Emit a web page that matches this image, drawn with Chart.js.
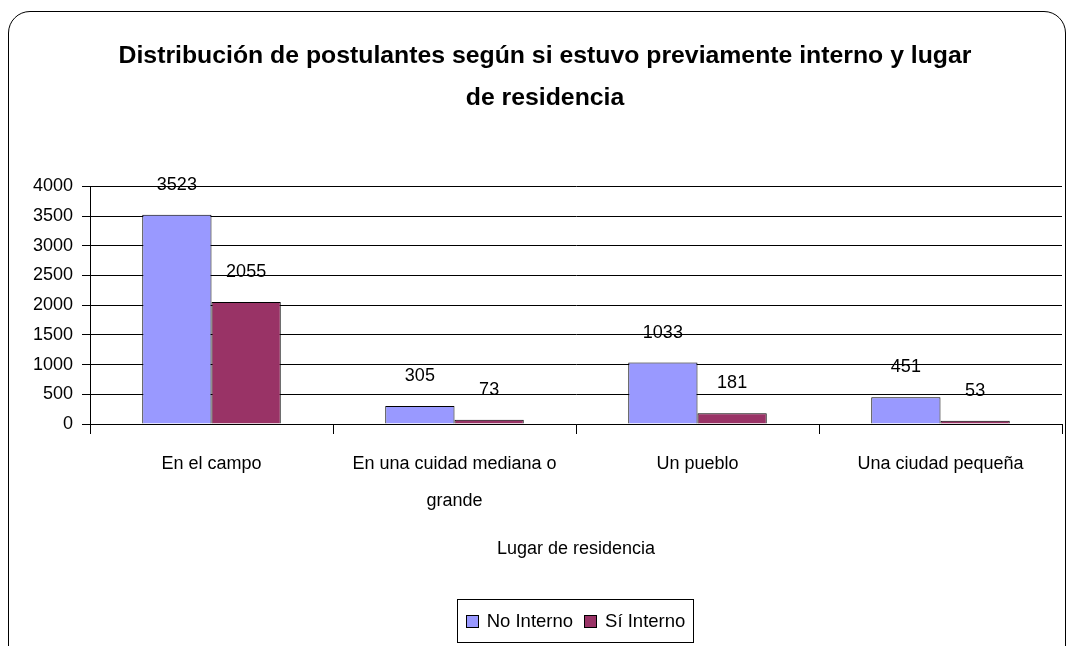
<!DOCTYPE html>
<html>
<head>
<meta charset="utf-8">
<script src="https://cdn.jsdelivr.net/npm/chart.js@4.4.1/dist/chart.umd.min.js"></script>
<style>
  html, body { margin: 0; padding: 0; background: #fff; overflow: hidden; }
  #wrap { position: relative; width: 1069px; height: 646px; }
  #frame {
    position: absolute; left: 8px; top: 11px; width: 1058px; height: 700px;
    border: 1.5px solid #000; border-radius: 22px; box-sizing: border-box;
  }
  #chart { position: absolute; left: 0; top: 0; }
  #legend {
    position: absolute; left: 457px; top: 599px; width: 237px; height: 44px;
    border: 1px solid #000; box-sizing: border-box;
    display: flex; align-items: center; justify-content: center; gap: 11px;
    font: 18.5px "Liberation Sans", Arial, sans-serif;
  }
  #legend span.item { display: flex; align-items: center; gap: 8px; }
  #legend i { display: inline-block; width: 13px; height: 13px; border: 1.5px solid #000; box-sizing: border-box; }
</style>
</head>
<body>
<div id="wrap">
  <div id="frame"></div>
  <canvas id="chart" width="1069" height="646"></canvas>
  <div id="legend"></div>
</div>
<script>
const categories = [["En el campo"], ["En una cuidad mediana o", "grande"], ["Un pueblo"], ["Una ciudad pequeña"]];
const noInterno = [3523, 305, 1033, 451];
const siInterno = [2055, 73, 181, 53];
const seriesNames = ["No Interno", "Sí Interno"];
const seriesColors = ["#9999ff", "#993366"];
const titleLines = ["Distribución de postulantes según si estuvo previamente interno y lugar", "de residencia"];
const axisTitle = "Lugar de residencia";

const FONT = '"Liberation Sans", Arial, sans-serif';

const valueLabels = {
  id: "valueLabels",
  afterDatasetsDraw(chart) {
    const ctx = chart.ctx;
    ctx.save();
    ctx.font = "18px " + FONT;
    ctx.fillStyle = "#000";
    ctx.textAlign = "center";
    ctx.textBaseline = "middle";
    chart.data.datasets.forEach((ds, i) => {
      chart.getDatasetMeta(i).data.forEach((bar, j) => {
        ctx.fillText(String(ds.data[j]), bar.x, bar.y - 30);
      });
    });
    ctx.restore();
  },
};

const legendEl = document.getElementById("legend");
seriesNames.forEach((name, i) => {
  const item = document.createElement("span");
  item.className = "item";
  item.innerHTML = `<i style="background:${seriesColors[i]}"></i><span>${name}</span>`;
  legendEl.appendChild(item);
});

new Chart(document.getElementById("chart"), {
  type: "bar",
  data: {
    labels: categories,
    datasets: [
      { label: seriesNames[0], data: noInterno, backgroundColor: seriesColors[0], borderColor: "#000", borderWidth: 1 },
      { label: seriesNames[1], data: siInterno, backgroundColor: seriesColors[1], borderColor: "#000", borderWidth: 1 },
    ],
  },
  options: {
    responsive: false,
    animation: false,
    layout: { padding: { left: 28, right: 7, top: 0, bottom: 0 } },
    datasets: { bar: { categoryPercentage: 0.57, barPercentage: 1 } },
    plugins: {
      legend: { display: false },
      tooltip: { enabled: false },
      title: {
        display: true,
        text: titleLines,
        color: "#000",
        font: { family: FONT, size: 24.8, weight: "bold", lineHeight: 1.66 },
        padding: { top: 36, bottom: 68 },
      },
    },
    scales: {
      x: {
        afterFit: (scale) => { scale.height = 222; },
        grid: { display: true, drawOnChartArea: false, drawTicks: true, tickLength: 10, color: "#000", offset: true },
        border: { display: true, color: "#000", width: 1 },
        ticks: { autoSkip: false, color: "#000", font: { family: FONT, size: 18, lineHeight: 2.05 }, padding: 12, maxRotation: 0 },
        title: { display: true, text: axisTitle, color: "#000", font: { family: FONT, size: 18 }, padding: { top: 0, bottom: 86 } },
      },
      y: {
        min: 0,
        max: 4000,
        afterFit: (scale) => { scale.width = 62; },
        grid: { color: "#000", tickLength: 8, drawTicks: true },
        border: { display: true, color: "#000", width: 1 },
        ticks: { stepSize: 500, color: "#000", font: { family: FONT, size: 18 }, padding: 9, callback: (v) => String(v) },
      },
    },
  },
  plugins: [valueLabels],
});
</script>
</body>
</html>
